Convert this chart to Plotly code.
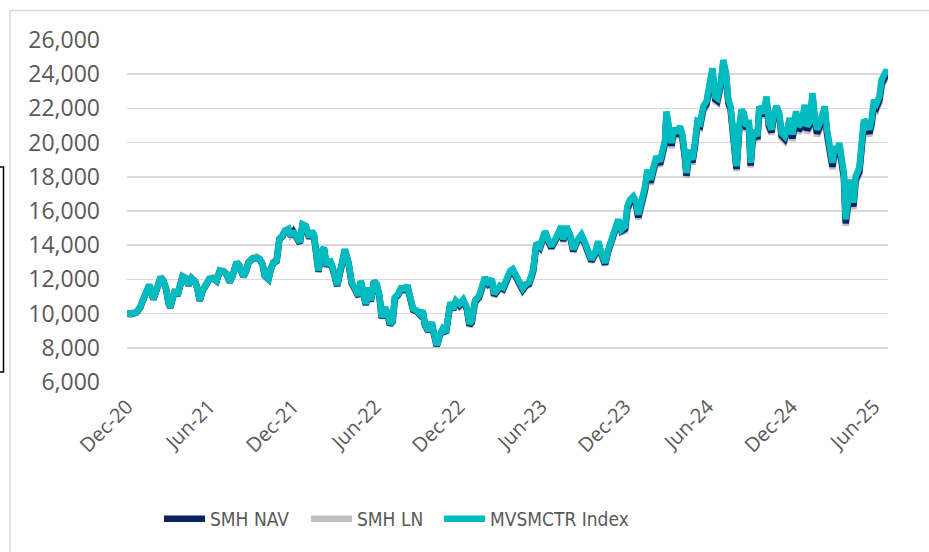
import pandas as pd
import plotly.graph_objects as go

START = "2020-12-31"

# days since 31-Dec-2020 for each observation
days = [
    0, 10, 21, 29, 36, 43, 49, 54, 58, 62,
    67, 74, 80, 86, 91, 95, 100, 106, 111, 117,
    122, 130, 135, 142, 150, 155, 160, 166, 174, 181,
    190, 197, 204, 213, 219, 226, 232, 241, 247, 256,
    262, 267, 276, 285, 292, 298, 303, 311, 316, 322,
    329, 335, 342, 347, 355, 360,
    366, 373, 380, 386, 393, 401, 406, 411, 417, 421,
    424, 428, 433, 439, 445, 450, 457, 462,
    472, 479, 487, 494, 501, 509, 514, 520, 525, 531,
    536, 543, 549, 555, 560, 567, 572, 578, 584, 589,
    596, 604, 609, 616, 622, 629, 637, 644, 650, 655,
    662, 670, 675, 681, 687, 694, 701, 706, 711, 717,
    723,
    731, 739, 747, 753, 758, 765, 774, 780, 787, 794,
    802, 807, 813, 820, 827, 835, 842, 848, 855, 862,
    870, 877, 884,
    893, 900, 908, 919, 926, 933, 941, 948, 955, 959,
    966, 974, 981, 988, 999, 1007, 1014, 1021, 1029, 1036,
    1043, 1051, 1058, 1065, 1075, 1080, 1087,
    1095, 1100, 1106, 1113, 1119, 1124, 1131, 1139, 1144, 1151,
    1158, 1164, 1172, 1177, 1183, 1186, 1192, 1197, 1202, 1208,
    1216, 1221, 1227, 1230, 1236, 1243, 1249, 1254,
    1260, 1267, 1274, 1280, 1287, 1293, 1298, 1305, 1311, 1317,
    1322, 1327, 1331, 1336, 1340, 1346, 1351, 1356, 1362, 1367,
    1371, 1375, 1380, 1386, 1390, 1395, 1400, 1406, 1411, 1417,
    1422, 1428, 1434, 1439, 1446, 1452, 1457,
    1463, 1471, 1476, 1483, 1490, 1495, 1501, 1507, 1512, 1517,
    1523, 1529, 1534, 1539, 1545, 1551, 1556, 1561, 1566, 1571,
    1576, 1580, 1586, 1591, 1597, 1602, 1610, 1615, 1620, 1626,
    1632, 1637, 1642, 1648, 1654, 1659, 1664, 1670, 1673,
]

index_values = [
    10000, 9980, 10080, 10370, 10850, 11440, 11670, 11240, 10850, 11150,
    11670, 12120, 11920, 11440, 10660, 10370, 10850, 11400, 11050, 11630,
    12170, 12060, 11670, 12060, 11860, 11440, 10760, 11340, 11820, 12020,
    12060, 11920, 12500, 12450, 12310, 11860, 12210, 12990, 12800, 12170,
    12500, 12990, 13220, 13280, 13180, 12890, 12210, 12020, 12600, 12990,
    13090, 14350, 14540, 14830, 14930, 14540,
    14830, 14450, 14160, 15220, 15130, 14450, 14830, 14640, 13570, 12500,
    13090, 13670, 13860, 12800, 13180, 12890, 12210, 11670,
    12890, 13770, 12990, 11820, 11480, 11050, 11920, 10950, 10560, 11530,
    10760, 11920, 11730, 11050, 9790, 10370, 10080, 9400, 9590, 10950,
    11150, 11590, 11340, 11670, 10950, 10270, 10180, 9980, 10180, 9400,
    9010, 9500, 8820, 8140, 8720, 9110, 8910, 9980, 10660, 10270,
    10760,
    10560, 10820, 10370, 9400, 9590, 10760, 11050, 11530, 12120, 11820,
    12020, 11150, 11440, 11630, 11530, 12120, 12500, 12600, 12250, 12020,
    11480, 11730, 11820,
    12580, 14140, 13940, 14820, 14330, 13940, 14330, 14820, 15110, 14330,
    15110, 14620, 13750, 14230, 14620, 14140, 13550, 13160, 13550, 14230,
    13550, 12970, 13750, 14330, 15300, 15500, 14910,
    15110, 16280, 16670, 16860, 16570, 15790, 16470, 17440, 18420, 17830,
    18610, 19190, 18900, 19580, 20170, 21820, 21040, 19970, 20850, 20560,
    20950, 20460, 19190, 18220, 19580, 19000, 20070, 21240,
    21150, 22120, 22410, 23480, 24350, 22700, 22600, 23480, 24830, 24060,
    22500, 22120, 21150, 19790, 18620, 20950, 21920, 21730, 20950, 21340,
    18820, 20170, 20760, 20370, 22120, 21920, 21730, 22700, 21150, 20760,
    21730, 22120, 21730, 20560, 20370, 20850, 21440,
    20470, 21830, 20950, 21150, 22210, 20950, 21240, 22890, 21530, 20760,
    21150, 21730, 22120, 20760, 19590, 18820, 19790, 19400, 19980, 18620,
    18230, 15510, 16680, 17840, 16490, 18040, 18520, 20170, 21340, 21150,
    20760, 21340, 22500, 22310, 22700, 23670, 24060, 24250, 23960,
]

nav_values = [
    10000, 9960, 10060, 10350, 10830, 11420, 11650, 11220, 10830, 11130,
    11650, 12100, 11900, 11420, 10640, 10350, 10830, 11380, 11030, 11610,
    12150, 12040, 11650, 12040, 11840, 11420, 10740, 11320, 11800, 12000,
    12040, 11900, 12480, 12430, 12290, 11840, 12190, 12970, 12780, 12150,
    12480, 12970, 13200, 13260, 13160, 12870, 12190, 12000, 12580, 12970,
    13070, 14330, 14520, 14810, 14910, 14520,
    14780, 14400, 14110, 15170, 15080, 14400, 14780, 14590, 13520, 12450,
    13040, 13620, 13810, 12750, 13130, 12840, 12160, 11620,
    12840, 13720, 12940, 11770, 11430, 11000, 11870, 10900, 10510, 11480,
    10710, 11870, 11680, 11000, 9740, 10320, 10030, 9350, 9540, 10900,
    11100, 11540, 11290, 11620, 10900, 10220, 10130, 9930, 10130, 9350,
    8960, 9450, 8770, 8090, 8670, 9060, 8860, 9930, 10610, 10220,
    10710,
    10470, 10730, 10280, 9310, 9500, 10670, 10960, 11440, 12030, 11730,
    11930, 11060, 11350, 11540, 11440, 12030, 12410, 12510, 12160, 11930,
    11390, 11640, 11730,
    12490, 14050, 13850, 14730, 14240, 13850, 14240, 14730, 15020, 14240,
    15020, 14530, 13660, 14140, 14530, 14050, 13460, 13070, 13460, 14140,
    13460, 12880, 13660, 14240, 15210, 15410, 14820,
    14950, 16120, 16510, 16700, 16410, 15630, 16310, 17280, 18260, 17670,
    18450, 19030, 18740, 19420, 20010, 21660, 20880, 19810, 20690, 20400,
    20790, 20300, 19030, 18060, 19420, 18840, 19910, 21080,
    20990, 21960, 22250, 23320, 24190, 22540, 22440, 23320, 24670, 23900,
    22340, 21960, 20990, 19630, 18460, 20790, 21760, 21570, 20790, 21180,
    18660, 20010, 20600, 20210, 21960, 21760, 21570, 22540, 20990, 20600,
    21570, 21960, 21570, 20400, 20210, 20690, 21280,
    20240, 21600, 20720, 20920, 21980, 20720, 21010, 22660, 21300, 20530,
    20920, 21500, 21890, 20530, 19360, 18590, 19560, 19170, 19750, 18390,
    18000, 15280, 16450, 17610, 16260, 17810, 18290, 19940, 21110, 20920,
    20530, 21110, 22270, 22080, 22470, 23440, 23830, 24020, 23730,
]

ln_values = [
    10000, 10030, 10130, 10420, 10900, 11490, 11720, 11290, 10900, 11200,
    11720, 12170, 11970, 11490, 10710, 10420, 10900, 11450, 11100, 11680,
    12220, 12110, 11720, 12110, 11910, 11490, 10810, 11390, 11870, 12070,
    12110, 11970, 12550, 12500, 12360, 11910, 12260, 13040, 12850, 12220,
    12550, 13040, 13270, 13330, 13230, 12940, 12260, 12070, 12650, 13040,
    13140, 14400, 14590, 14880, 14980, 14590,
    14750, 14370, 14080, 15140, 15050, 14370, 14750, 14560, 13490, 12420,
    13010, 13590, 13780, 12720, 13100, 12810, 12130, 11590,
    12810, 13690, 12910, 11740, 11400, 10970, 11840, 10870, 10480, 11450,
    10680, 11840, 11650, 10970, 9710, 10290, 10000, 9320, 9510, 10870,
    11070, 11510, 11260, 11590, 10870, 10190, 10100, 9900, 10100, 9320,
    8930, 9420, 8740, 8060, 8640, 9030, 8830, 9900, 10580, 10190,
    10680,
    10410, 10670, 10220, 9250, 9440, 10610, 10900, 11380, 11970, 11670,
    11870, 11000, 11290, 11480, 11380, 11970, 12350, 12450, 12100, 11870,
    11330, 11580, 11670,
    12430, 13990, 13790, 14670, 14180, 13790, 14180, 14670, 14960, 14180,
    14960, 14470, 13600, 14080, 14470, 13990, 13400, 13010, 13400, 14080,
    13400, 12820, 13600, 14180, 15150, 15350, 14760,
    14830, 16000, 16390, 16580, 16290, 15510, 16190, 17160, 18140, 17550,
    18330, 18910, 18620, 19300, 19890, 21540, 20760, 19690, 20570, 20280,
    20670, 20180, 18910, 17940, 19300, 18720, 19790, 20960,
    20870, 21840, 22130, 23200, 24070, 22420, 22320, 23200, 24550, 23780,
    22220, 21840, 20870, 19510, 18340, 20670, 21640, 21450, 20670, 21060,
    18540, 19890, 20480, 20090, 21840, 21640, 21450, 22420, 20870, 20480,
    21450, 21840, 21450, 20280, 20090, 20570, 21160,
    20090, 21450, 20570, 20770, 21830, 20570, 20860, 22510, 21150, 20380,
    20770, 21350, 21740, 20380, 19210, 18440, 19410, 19020, 19600, 18240,
    17850, 15130, 16300, 17460, 16110, 17660, 18140, 19790, 20960, 20770,
    20380, 20960, 22120, 21930, 22320, 23290, 23680, 23870, 23580,
]

tick_dates = ["2020-12-31", "2021-06-30", "2021-12-31", "2022-06-30", "2022-12-31",
              "2023-06-30", "2023-12-31", "2024-06-30", "2024-12-31", "2025-06-30"]
tick_labels = ["Dec-20", "Jun-21", "Dec-21", "Jun-22", "Dec-22",
               "Jun-23", "Dec-23", "Jun-24", "Dec-24", "Jun-25"]
y_ticks = [6000, 8000, 10000, 12000, 14000, 16000, 18000, 20000, 22000, 24000, 26000]

series_names = ["SMH NAV", "SMH LN", "MVSMCTR Index"]
series_colors = ["#0B2260", "#BFBFBF", "#00BBC0"]

assert len(days) == len(index_values) == len(nav_values) == len(ln_values)

dates = pd.Timestamp(START) + pd.to_timedelta(days, unit="D")

fig = go.Figure()
# draw order: LN underneath, NAV, then index on top
for name, vals, color, leg, rank in [
    (series_names[1], ln_values, series_colors[1], "legend2", 2),
    (series_names[0], nav_values, series_colors[0], "legend", 1),
    (series_names[2], index_values, series_colors[2], "legend3", 3),
]:
    fig.add_trace(go.Scatter(
        x=dates, y=vals, mode="lines", name=name, legend=leg, legendrank=rank,
        line=dict(color=color, width=6.5), hoverinfo="skip",
    ))

# target plot box in page pixels (page body margin removed below)
W, H = 929, 552
PLOT_L, PLOT_R, PLOT_T, PLOT_B = 127, 888, 40, 382
L, R, T, B = PLOT_L, W - PLOT_R, PLOT_T, H - PLOT_B
pw, ph = PLOT_R - PLOT_L, PLOT_B - PLOT_T

def px_x(x):
    return (x - PLOT_L) / pw

def px_y(y):
    return (PLOT_B - y) / ph

legend_font = dict(family="Liberation Sans Narrow, DejaVu Sans Condensed, Arial Narrow, sans-serif",
                   size=19, color="#595959")
leg_common = dict(orientation="h", xanchor="left", yanchor="middle", y=px_y(519),
                  font=legend_font, bgcolor="rgba(0,0,0,0)", borderwidth=0,
                  itemwidth=41)

fig.update_layout(
    width=W, height=H,
    margin=dict(l=L, r=R, t=T, b=B, autoexpand=False),
    paper_bgcolor="white", plot_bgcolor="white",
    showlegend=True,
    legend=dict(x=px_x(159), **leg_common),
    legend2=dict(x=px_x(306), **leg_common),
    legend3=dict(x=px_x(439), **leg_common),
    xaxis=dict(
        type="date",
        range=[dates[0], dates[-1]],
        tickvals=tick_dates, ticktext=tick_labels,
        tickangle=-45,
        showgrid=False, zeroline=False, showline=False,
        ticks="", ticklabelstandoff=8,
        tickfont=dict(family="Open Sans, sans-serif", size=20, color="#595959"),
    ),
    yaxis=dict(
        range=[6000, 26000], tickvals=y_ticks, tickformat=",",
        showgrid=True, gridcolor="#D9D9D9", gridwidth=1.5,
        zeroline=False, showline=False, ticks="",
        ticklabelstandoff=26,
        tickfont=dict(family="Open Sans, sans-serif", size=23, color="#595959"),
    ),
    shapes=[
        dict(type="rect", xref="paper", yref="paper",
             x0=px_x(10), x1=px_x(960), y0=px_y(600), y1=px_y(10.5),
             line=dict(color="#D9D9D9", width=1.5), layer="below"),
        dict(type="rect", xref="paper", yref="paper",
             x0=px_x(-20), x1=px_x(3.5), y0=px_y(372), y1=px_y(167),
             line=dict(color="#000000", width=1.5), layer="below"),
    ],
)

fig.write_html(
    "out.html",
    config={"displayModeBar": False, "staticPlot": True},
    post_script="document.body.style.margin='0';document.body.style.overflow='hidden';",
)
